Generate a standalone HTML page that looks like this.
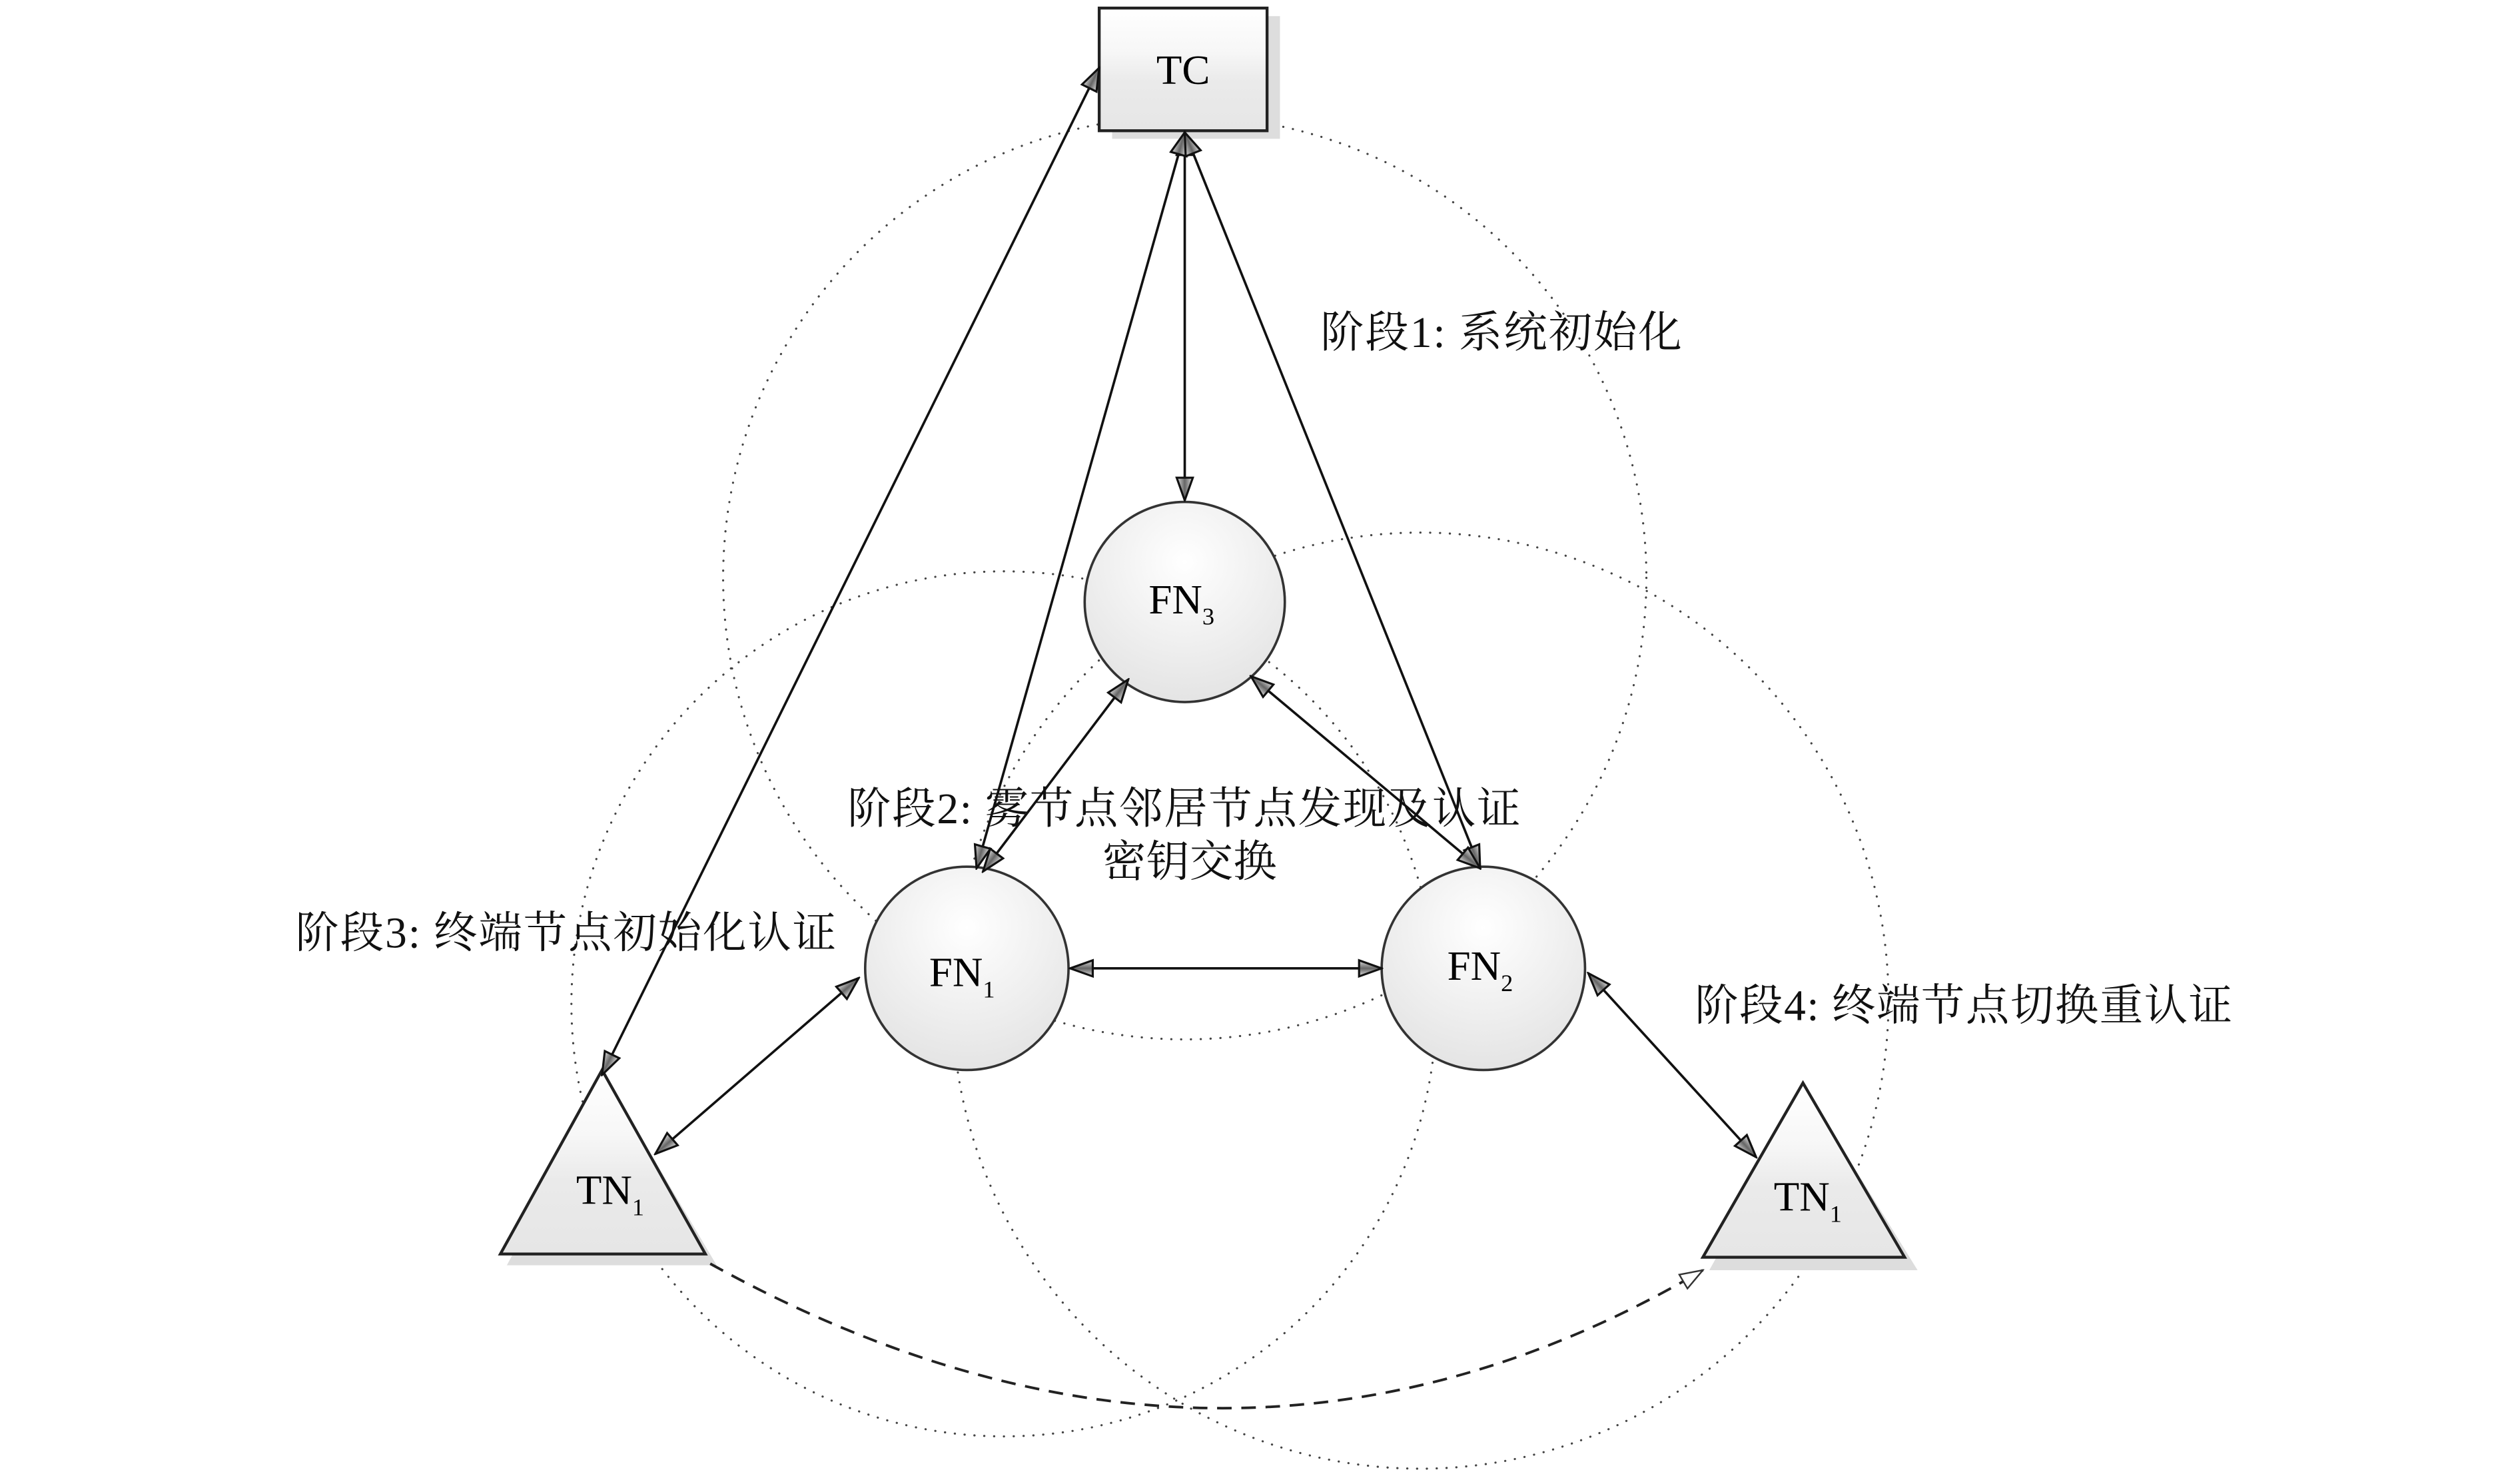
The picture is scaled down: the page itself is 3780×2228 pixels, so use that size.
<!DOCTYPE html>
<html><head><meta charset="utf-8"><style>html,body{margin:0;padding:0;background:#fff}svg{display:block}</style></head><body>
<svg width="3780" height="2228" viewBox="0 0 1560 919.5" xmlns="http://www.w3.org/2000/svg" font-family="'Liberation Serif','Noto Serif CJK SC',serif">
<defs>
<linearGradient id="g" x1="0" y1="0" x2="0" y2="1"><stop offset="0" stop-color="#fff"/><stop offset="0.35" stop-color="#f7f7f7"/><stop offset="0.6" stop-color="#eaeaea"/><stop offset="1" stop-color="#e6e6e6"/></linearGradient>
<radialGradient id="cg" cx="0.5" cy="0.3" r="0.7"><stop offset="0" stop-color="#fff"/><stop offset="1" stop-color="#e4e4e4"/></radialGradient>
<linearGradient id="ag" x1="0" y1="0" x2="0" y2="1"><stop offset="0" stop-color="#ddd"/><stop offset="0.5" stop-color="#666"/><stop offset="1" stop-color="#ddd"/></linearGradient>
<marker id="a" viewBox="0 0 16 12" refX="15" refY="6" markerWidth="16" markerHeight="12" markerUnits="userSpaceOnUse" orient="auto-start-reverse"><path d="M1,1 L15,6 L1,11 Z" fill="url(#ag)" stroke="#111" stroke-width="1.3"/></marker>
<marker id="o" viewBox="0 0 16 12" refX="15" refY="6" markerWidth="16" markerHeight="12" markerUnits="userSpaceOnUse" orient="auto"><path d="M1,1 L15,6 L1,11 Z" fill="#fff" stroke="#333" stroke-width="1"/></marker>
</defs>
<g fill="none" stroke="#444" stroke-width="1.3" stroke-dasharray="0.1 6" stroke-linecap="round">
<circle cx="734" cy="358" r="286"/>
<circle cx="622" cy="622" r="268"/>
<circle cx="880" cy="620" r="290"/>
</g>
<rect x="689" y="10" width="104" height="76" fill="#ddd"/>
<polygon points="376,669 444,784 314,784" fill="#ddd"/>
<polygon points="1120,677 1188,787 1059,787" fill="#ddd"/>
<rect x="681" y="5" width="104" height="76" fill="url(#g)" stroke="#222" stroke-width="1.8"/>
<text x="733" y="52" font-size="26" text-anchor="middle">TC</text>
<circle cx="734" cy="373" r="62" fill="url(#cg)" stroke="#333" stroke-width="1.5"/>
<circle cx="599" cy="600" r="63" fill="url(#cg)" stroke="#333" stroke-width="1.5"/>
<circle cx="919" cy="600" r="63" fill="url(#cg)" stroke="#333" stroke-width="1.5"/>
<polygon points="373,663 437,777 310,777" fill="url(#g)" stroke="#222" stroke-width="1.8"/>
<polygon points="1117,671 1180,779 1055,779" fill="url(#g)" stroke="#222" stroke-width="1.8"/>
<g font-size="26" text-anchor="middle">
<text x="732" y="380">FN<tspan font-size="15" dy="7">3</tspan></text>
<text x="596" y="611">FN<tspan font-size="15" dy="7">1</tspan></text>
<text x="917" y="607">FN<tspan font-size="15" dy="7">2</tspan></text>
<text x="378" y="746">TN<tspan font-size="15" dy="7">1</tspan></text>
<text x="1120" y="750">TN<tspan font-size="15" dy="7">1</tspan></text>
</g>
<g stroke="#111" stroke-width="1.5" fill="none" marker-start="url(#a)" marker-end="url(#a)">
<line x1="373" y1="666" x2="681" y2="42"/>
<line x1="734" y1="82" x2="734" y2="310"/>
<line x1="734" y1="82" x2="605" y2="538"/>
<line x1="734" y1="82" x2="917" y2="538"/>
<line x1="699" y1="421" x2="609" y2="540"/>
<line x1="775" y1="419" x2="917" y2="538"/>
<line x1="663" y1="600" x2="856" y2="600"/>
<line x1="532" y1="606" x2="406" y2="715"/>
<line x1="984" y1="603" x2="1088" y2="717"/>
</g>
<path d="M440,783 Q760,960 1055,787" fill="none" stroke="#222" stroke-width="1.6" stroke-dasharray="9 6" marker-end="url(#o)"/>
<g font-size="27" fill="#111">
<text x="818" y="215" textLength="224">阶段1: 系统初始化</text>
<text x="525" y="510" textLength="417">阶段2: 雾节点邻居节点发现及认证</text>
<text x="737" y="543" text-anchor="middle">密钥交换</text>
<text x="183" y="587" textLength="335">阶段3: 终端节点初始化认证</text>
<text x="1050" y="632" textLength="333">阶段4: 终端节点切换重认证</text>
</g>
</svg>
</body></html>
